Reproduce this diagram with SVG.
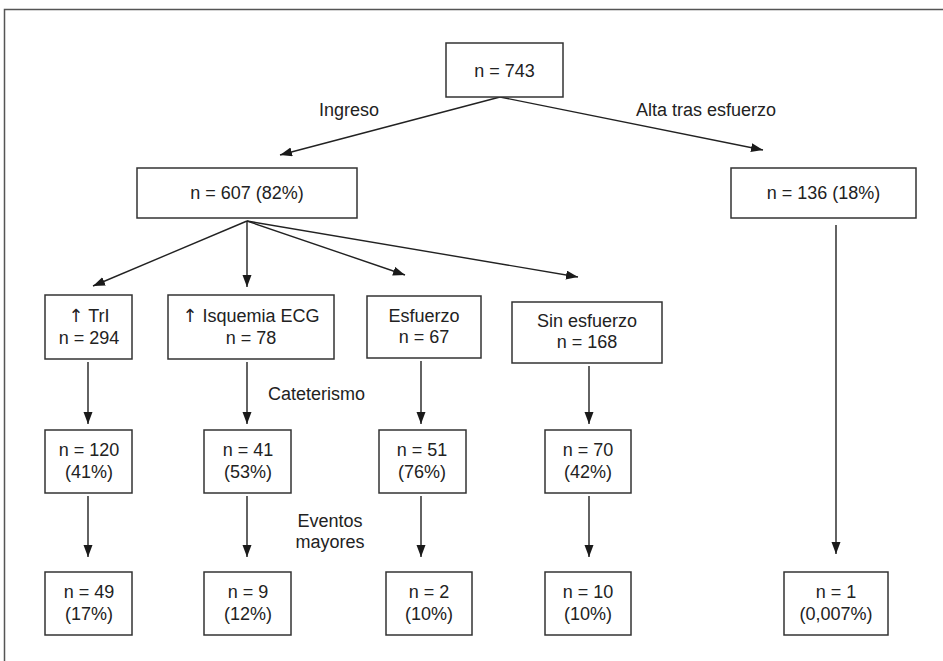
<svg xmlns="http://www.w3.org/2000/svg" width="943" height="661" viewBox="0 0 943 661">
<defs>
<marker id="ah" markerUnits="userSpaceOnUse" markerWidth="12" markerHeight="10" refX="12" refY="4.5" orient="auto">
<path d="M0,0 L12,4.5 L0,9 z" fill="#1a1a1a"/>
</marker>
<style>
.box{fill:#fff;stroke:#333;stroke-width:1.5}
.t{font-family:"Liberation Sans",Arial,sans-serif;font-size:18px;fill:#222;text-anchor:middle}
.l{font-family:"Liberation Sans",Arial,sans-serif;font-size:18px;fill:#222}
.ar{font-family:"DejaVu Sans",sans-serif;font-size:18px;fill:#222}
.c{stroke:#222;stroke-width:1.4;fill:none;marker-end:url(#ah)}
</style>
</defs>
<rect width="943" height="661" fill="#fff"/>
<rect x="4.5" y="9.5" width="950" height="670" fill="none" stroke="#555" stroke-width="1.5"/>
<g id="connectors">
<line class="c" x1="500" y1="97" x2="280" y2="155"/>
<line class="c" x1="500" y1="97" x2="763" y2="150"/>
<line class="c" x1="247" y1="221" x2="93" y2="286"/>
<line class="c" x1="247" y1="221" x2="247" y2="287"/>
<line class="c" x1="247" y1="221" x2="405" y2="275"/>
<line class="c" x1="247" y1="221" x2="578" y2="277"/>
<line class="c" x1="836" y1="225" x2="836" y2="554"/>
<line class="c" x1="88" y1="362" x2="88" y2="424"/>
<line class="c" x1="247" y1="362" x2="247" y2="424"/>
<line class="c" x1="421" y1="361" x2="421" y2="424"/>
<line class="c" x1="589" y1="366" x2="589" y2="424"/>
<line class="c" x1="88" y1="496" x2="88" y2="557"/>
<line class="c" x1="247" y1="496" x2="247" y2="557"/>
<line class="c" x1="421" y1="496" x2="421" y2="557"/>
<line class="c" x1="589" y1="496" x2="589" y2="557"/>
</g>
<g id="labels">
<text class="l" x="319" y="116">Ingreso</text>
<text class="l" x="636" y="116">Alta tras esfuerzo</text>
<text class="l" x="268" y="400">Cateterismo</text>
<text class="t" x="330" y="527">Eventos</text>
<text class="t" x="330" y="548">mayores</text>
</g>
<g id="n743"><rect class="box" x="446" y="43" width="117" height="54"/><text class="t" x="504.5" y="77">n = 743</text></g>
<g id="n607"><rect class="box" x="137" y="168" width="220" height="50"/><text class="t" x="247" y="199">n = 607 (82%)</text></g>
<g id="n136"><rect class="box" x="731" y="168" width="185" height="50"/><text class="t" x="823.5" y="199">n = 136 (18%)</text></g>
<g id="tri"><rect class="box" x="45" y="295" width="87" height="64"/><text class="t" x="89" y="322"><tspan class="ar">↑</tspan> TrI</text><text class="t" x="89" y="344">n = 294</text></g>
<g id="isq"><rect class="box" x="168" y="295" width="166" height="64"/><text class="t" x="251" y="322"><tspan class="ar">↑</tspan> Isquemia ECG</text><text class="t" x="251" y="344">n = 78</text></g>
<g id="esf"><rect class="box" x="367" y="296" width="114" height="62"/><text class="t" x="424" y="322">Esfuerzo</text><text class="t" x="424" y="343">n = 67</text></g>
<g id="sinesf"><rect class="box" x="512" y="302" width="150" height="61"/><text class="t" x="587" y="327">Sin esfuerzo</text><text class="t" x="587" y="348">n = 168</text></g>
<g id="n120"><rect class="box" x="45" y="430" width="87" height="63"/><text class="t" x="89" y="456">n = 120</text><text class="t" x="89" y="478">(41%)</text></g>
<g id="n41"><rect class="box" x="204" y="430" width="87" height="63"/><text class="t" x="248" y="456">n = 41</text><text class="t" x="248" y="478">(53%)</text></g>
<g id="n51"><rect class="box" x="379" y="430" width="87" height="63"/><text class="t" x="422" y="456">n = 51</text><text class="t" x="422" y="478">(76%)</text></g>
<g id="n70"><rect class="box" x="545" y="430" width="86" height="63"/><text class="t" x="588" y="456">n = 70</text><text class="t" x="588" y="478">(42%)</text></g>
<g id="n49"><rect class="box" x="45" y="572" width="87" height="63"/><text class="t" x="89" y="598">n = 49</text><text class="t" x="89" y="620">(17%)</text></g>
<g id="n9"><rect class="box" x="204" y="572" width="87" height="63"/><text class="t" x="248" y="598">n = 9</text><text class="t" x="248" y="620">(12%)</text></g>
<g id="n2"><rect class="box" x="386" y="572" width="86" height="63"/><text class="t" x="429" y="598">n = 2</text><text class="t" x="429" y="620">(10%)</text></g>
<g id="n10"><rect class="box" x="545" y="572" width="86" height="63"/><text class="t" x="588" y="598">n = 10</text><text class="t" x="588" y="620">(10%)</text></g>
<g id="n1"><rect class="box" x="784" y="572" width="104" height="63"/><text class="t" x="836" y="598">n = 1</text><text class="t" x="836" y="620">(0,007%)</text></g>
</svg>
